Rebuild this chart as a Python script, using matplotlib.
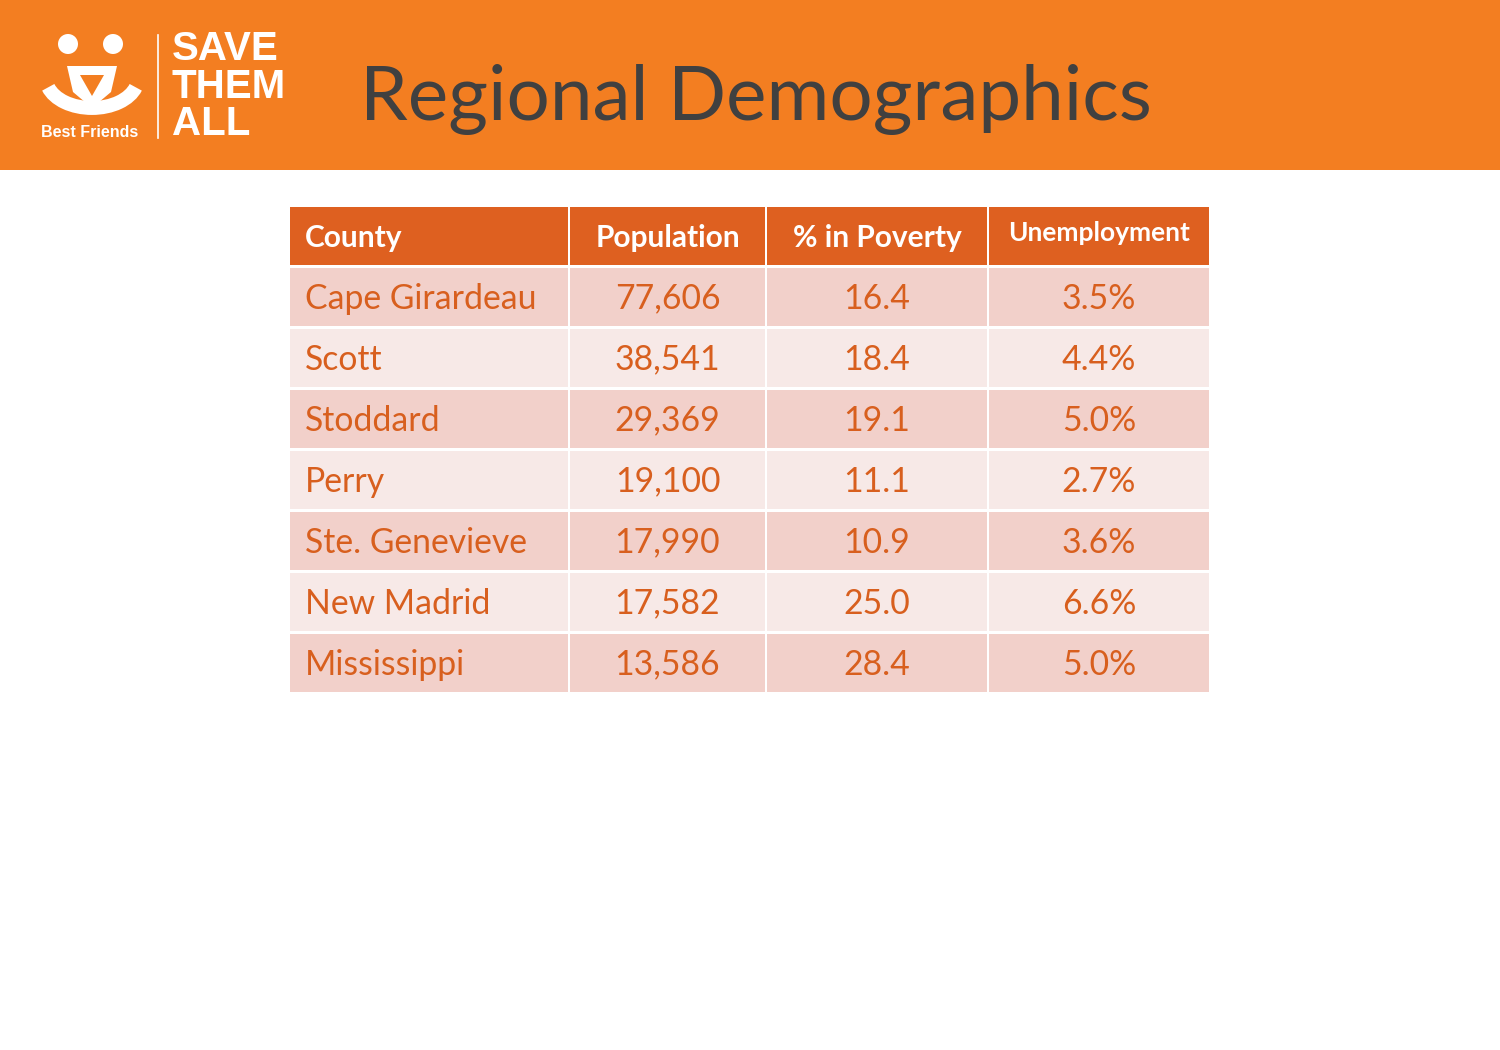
import matplotlib
matplotlib.use("Agg")
import matplotlib.pyplot as plt
from matplotlib.patches import Rectangle, Circle, Polygon, Arc

# ==== data ====
headers = ["County", "Population", "% in Poverty", "Unemployment"]
counties = ["Cape Girardeau", "Scott", "Stoddard", "Perry",
            "Ste. Genevieve", "New Madrid", "Mississippi"]
population = ["77,606", "38,541", "29,369", "19,100", "17,990", "17,582", "13,586"]
poverty = ["16.4", "18.4", "19.1", "11.1", "10.9", "25.0", "28.4"]
unemployment = ["3.5%", "4.4%", "5.0%", "2.7%", "3.6%", "6.6%", "5.0%"]

# ==== layout (pixel coords, y down) ====
col_edges = [290, 569, 766, 988, 1210]
header_top, header_bot = 207, 265
row_h = 61
gap = 2.5

orange = "#F37E21"
head_col = "#DE6020"
row_cols = ["#F2D0CA", "#F7E9E7"]
text_col = "#D85F1E"

plt.rcParams['font.family'] = ['Lato', 'DejaVu Sans']

fig = plt.figure(figsize=(15, 10.5), dpi=100)
ax = fig.add_axes([0, 0, 1, 1])
ax.set_xlim(0, 1500)
ax.set_ylim(1050, 0)
ax.axis("off")

# ==== banner ====
ax.add_patch(Rectangle((0, 0), 1500, 170, color=orange, lw=0))
ax.text(360, 120, "Regional Demographics", fontsize=55, color="#404040",
        ha="left", va="baseline")

# ==== logo ====
ax.add_patch(Circle((68, 44), 10, color="white", lw=0))
ax.add_patch(Circle((113, 44), 10, color="white", lw=0))
# smile (y axis is inverted, so angles run clockwise on screen)
ax.add_patch(Arc((92, 78), 92, 60, theta1=12, theta2=168, color="white", lw=10))
ax.add_patch(Polygon([[67, 66], [117, 66], [111, 92], [92, 108], [73, 92]],
                     closed=True, color="white", lw=0))
ax.add_patch(Polygon([[80, 75], [104, 75], [92, 96]], closed=True, color=orange, lw=0))
ax.text(41, 137, "Best Friends", fontsize=11.5, color="white", fontweight="bold",
        family=["Liberation Sans", "DejaVu Sans"], va="baseline", ha="left")
ax.plot([158, 158], [35, 138], color="white", lw=1.2)
ax.text(172, 135, "SAVE\nTHEM\nALL", fontsize=29, color="white", fontweight="bold",
        family=["Liberation Sans", "DejaVu Sans"], va="baseline", ha="left",
        linespacing=0.98)

# ==== table ====
header_sizes = [21.5, 21.5, 21.5, 19]
for j, h in enumerate(headers):
    x0, x1 = col_edges[j], col_edges[j + 1]
    ax.add_patch(Rectangle((x0 + gap / 2 if j else x0, header_top),
                           (x1 - x0) - (gap if j else gap / 2), header_bot - header_top,
                           color=head_col, lw=0))
    yc = (header_top + header_bot) / 2 + (2 if j < 3 else -3)
    if j == 0:
        ax.text(x0 + 15, yc, h, fontsize=header_sizes[j], color="white",
                fontweight="bold", ha="left", va="center")
    else:
        ax.text((x0 + x1) / 2, yc, h, fontsize=header_sizes[j], color="white",
                fontweight="bold", ha="center", va="center")

columns = [counties, population, poverty, unemployment]
for i in range(len(counties)):
    top = header_bot + gap + i * row_h
    for j, col in enumerate(columns):
        x0, x1 = col_edges[j], col_edges[j + 1]
        ax.add_patch(Rectangle((x0 + gap / 2 if j else x0, top),
                               (x1 - x0) - (gap if j else gap / 2), row_h - gap,
                               color=row_cols[i % 2], lw=0))
        yc = top + (row_h - gap) / 2 + 2
        if j == 0:
            ax.text(x0 + 15, yc, col[i], fontsize=24.3, color=text_col,
                    ha="left", va="center")
        else:
            ax.text((x0 + x1) / 2, yc, col[i], fontsize=24.3, color=text_col,
                    ha="center", va="center")

fig.savefig("out.png", dpi=100)
